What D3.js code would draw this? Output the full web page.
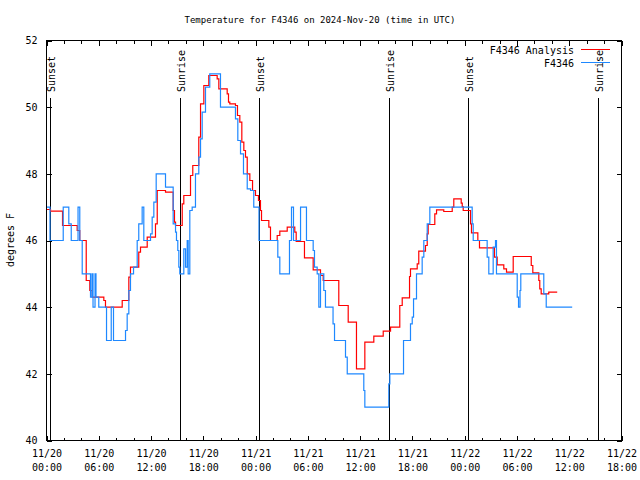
<!DOCTYPE html>
<html><head><meta charset="utf-8">
<script src="https://cdn.jsdelivr.net/npm/d3@7/dist/d3.min.js"></script>
<style>body{margin:0;background:#fff}svg text{font-family:"DejaVu Sans Mono",monospace;font-size:10px;fill:#000}</style>
</head><body><svg id="c" width="640" height="480"></svg>
<script>
// ---- data (hours since 2024-11-20 00:00 UTC) ----
const chartTitle = "Temperature for F4346 on 2024-Nov-20 (time in UTC)";
const yLabel = "degrees F";
const seriesNames = ["F4346 Analysis", "F4346"];
const xDomainHours = [0, 66];
const yDomain = [40, 52];
const yTicks = [40, 42, 44, 46, 48, 50, 52];
const xTickHours = [0, 6, 12, 18, 24, 30, 36, 42, 48, 54, 60, 66];
const xTickDays = ["11/20","11/20","11/20","11/20","11/21","11/21","11/21","11/21","11/22","11/22","11/22","11/22"];
const xTickTimes = ["00:00","06:00","12:00","18:00","00:00","06:00","12:00","18:00","00:00","06:00","12:00","18:00"];
const xMinorTickHours = [2,4,8,10,14,16,20,22,26,28,32,34,38,40,44,46,50,52,56,58,62,64];
const sunEventNames = ["Sunset","Sunrise","Sunset","Sunrise","Sunset","Sunrise"];
const sunEventHours = [0.38, 15.30, 24.37, 39.30, 48.36, 63.28];

const analysisHours = [0,0.46,1.84,3.52,3.82,4.56,4.97,5.25,6.58,6.77,8.69,9.45,9.64,10.59,10.79,11.56,12.51,12.71,13.66,14.54,14.69,14.81,15.58,15.76,16.53,16.79,17.48,17.68,18.06,18.63,19.59,19.78,20.74,20.89,21.04,21.69,21.92,22.19,22.42,22.65,22.84,23.04,23.34,23.65,23.99,24.33,24.56,24.68,25.52,25.71,26.48,26.78,27.63,28.50,28.66,29.61,30.61,31.45,31.76,33.55,34.63,35.58,36.54,37.57,38.65,39.49,40.55,40.83,41.67,41.78,42.55,42.73,43.50,43.70,43.81,44.57,44.77,45.60,46.57,46.75,47.60,47.72,47.83,48.67,48.78,49.51,49.70,51.42,51.73,52.49,52.80,53.57,55.64,55.82,56.51,56.62,56.78,57.65,58.62];
const analysisTemps = [46.93,46.88,46.45,46.3,46.0,44.8,44.5,44.3,44.2,44.0,44.2,44.9,45.2,45.65,45.8,46.1,46.5,47.5,47.45,46.9,46.55,46.45,47.1,47.35,47.95,48.25,49.1,50.1,50.65,50.95,50.85,50.55,50.4,50.15,50.1,50.05,49.75,49.55,48.95,48.7,48.5,48.0,47.8,47.5,47.35,47.2,46.9,46.6,46.4,46.0,46.15,46.28,46.4,46.25,45.97,45.48,45.12,44.95,44.8,44.05,43.55,42.15,42.95,43.13,43.28,43.4,44.05,44.28,44.92,45.15,45.3,45.68,45.85,46.2,46.48,46.8,46.92,46.87,47.0,47.25,47.12,47.02,46.9,46.5,46.23,46.0,45.78,45.5,45.27,45.15,45.05,45.52,45.25,45.03,44.8,44.55,44.4,44.45,44.45];

const obsHours = [0,0.40,1.92,2.56,2.84,3.62,3.82,4.10,5.05,5.22,5.34,5.57,5.68,6.00,6.89,7.43,7.69,9.07,9.26,9.45,9.64,9.99,10.41,10.59,10.98,11.17,11.94,12.13,12.32,12.59,13.66,14.54,14.81,14.92,15.07,15.19,15.30,15.76,15.96,16.15,16.26,16.45,16.72,17.10,17.48,17.68,17.87,18.25,18.74,19.97,21.69,21.96,22.27,22.61,23.04,23.42,23.79,24.39,26.55,26.78,27.89,28.12,28.35,29.16,29.84,30.61,30.76,31.07,31.26,31.45,31.83,32.02,32.89,33.06,34.32,34.52,36.42,36.54,39.29,39.41,40.98,41.78,41.98,42.13,42.47,43.12,43.31,43.70,44.00,48.86,48.98,50.58,50.77,51.27,51.54,51.65,54.03,54.18,54.35,54.44,57.08,57.36,60.34];
const obsTemps = [47,46,47,46.5,46,47,46,45,44.3,45,44,45,44.3,44,43,44,43,43.3,43.8,44.5,45,45.2,46,46.5,47,46,46.2,46.7,47.15,48,47.6,46.5,46.25,46,45.7,45.2,45,45.75,45.2,46,45,46.9,47,48,48.5,49.05,49.85,50.6,51,50,49.65,49,48.6,48,47.55,47.5,47,46,45.5,45,46,47,46,47,46,45.7,45.2,45,44,45,44.5,44,43.5,43,42.5,42,41.5,41,41.7,42,43,43.5,43.7,44.25,45,45.5,46,46.5,47,46.5,46,45.5,45,45.8,46,45,44.3,44,44.5,45,44.4,44,44];

// ---- drawing ----
const svg = d3.select("#c");
const t0 = Date.UTC(2024, 10, 20, 0, 0, 0);
const toDate = h => new Date(t0 + h * 3600e3);
const L = 46.5, R = 621.5, T = 40.5, B = 440.5;
const x = d3.scaleUtc().domain(xDomainHours.map(toDate)).range([L, R]);
const y = d3.scaleLinear().domain(yDomain).range([B, T]);

// title
svg.append("text").attr("x", 320).attr("y", 23).attr("text-anchor", "middle").style("font-size", "9px").text(chartTitle);
// y label
svg.append("text").attr("transform", "translate(14,240) rotate(-90)").attr("text-anchor", "middle").text(yLabel);

// axes (ticks inward, mirrored)
function styleAxis(g) { g.select(".domain").remove(); g.selectAll("line").attr("stroke", "#000").attr("shape-rendering", "crispEdges"); }
svg.append("g").attr("transform", `translate(0,${B})`).call(d3.axisBottom(x).tickValues(xMinorTickHours.map(toDate)).tickSize(-3).tickFormat("")).call(styleAxis);
svg.append("g").attr("transform", `translate(0,${T})`).call(d3.axisTop(x).tickValues(xMinorTickHours.map(toDate)).tickSize(-3).tickFormat("")).call(styleAxis);
svg.append("g").attr("transform", `translate(0,${T})`).call(d3.axisTop(x).tickValues(xTickHours.map(toDate)).tickSize(-5).tickFormat("")).call(styleAxis);
const xb = svg.append("g").attr("transform", `translate(0,${B})`).call(d3.axisBottom(x).tickValues(xTickHours.map(toDate)).tickSize(-5).tickFormat("")).call(styleAxis);
xb.selectAll(".tick").each(function(d, i) {
  const t = d3.select(this).append("text").attr("text-anchor", "middle").attr("fill", "#000").style("font-size", "10px").style("font-family", "DejaVu Sans Mono, monospace");
  t.append("tspan").attr("x", 0).attr("y", 16).text(xTickDays[i]);
  t.append("tspan").attr("x", 0).attr("y", 30).text(xTickTimes[i]);
});
const yl = svg.append("g").attr("transform", `translate(${L},0)`).call(d3.axisLeft(y).tickValues(yTicks).tickSize(-5).tickPadding(9).tickFormat(d3.format("d"))).call(styleAxis);
yl.selectAll("text").attr("fill", "#000").style("font-size", "10px").style("font-family", "DejaVu Sans Mono, monospace");
svg.append("g").attr("transform", `translate(${R},0)`).call(d3.axisRight(y).tickValues(yTicks).tickSize(-5).tickFormat("")).call(styleAxis);

// sun event lines
sunEventHours.forEach((h, i) => {
  const px = Math.round(x(toDate(h))) + 0.5;
  svg.append("line").attr("x1", px).attr("x2", px).attr("y1", 98).attr("y2", B).attr("stroke", "#000").attr("shape-rendering", "crispEdges");
  svg.append("text").attr("transform", `translate(${px + 4.5},92) rotate(-90)`).attr("text-anchor", "start").text(sunEventNames[i]);
});

// series
const line = d3.line().x(d => x(toDate(d[0]))).y(d => y(d[1])).curve(d3.curveStepAfter);
const aData = analysisHours.map((h, i) => [h, analysisTemps[i]]);
const oData = obsHours.map((h, i) => [h, obsTemps[i]]);
svg.append("path").attr("d", line(aData)).attr("fill", "none").attr("stroke", "#ff0000").attr("stroke-width", 1.2);
svg.append("path").attr("d", line(oData)).attr("fill", "none").attr("stroke", "#1e88ff").attr("stroke-width", 1.2);

// border
svg.append("rect").attr("x", L).attr("y", T).attr("width", R - L).attr("height", B - T).attr("fill", "none").attr("stroke", "#000").attr("shape-rendering", "crispEdges");

// legend
const legColors = ["#ff0000", "#1e88ff"];
seriesNames.forEach((n, i) => {
  const ly = 49.5 + i * 13;
  svg.append("text").attr("x", 574).attr("y", ly + 4).attr("text-anchor", "end").text(n);
  svg.append("line").attr("x1", 581).attr("x2", 610).attr("y1", ly).attr("y2", ly).attr("stroke", legColors[i]).attr("shape-rendering", "crispEdges");
});
</script></body></html>
